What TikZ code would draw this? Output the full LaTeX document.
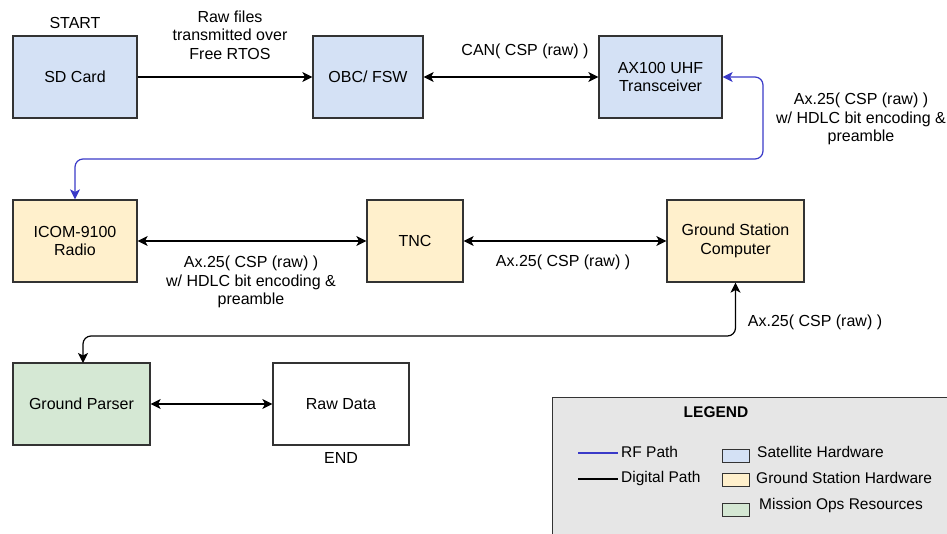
\documentclass[tikz,border=0pt]{standalone}
\usepackage{fontspec}
\setmainfont{Liberation Sans}
\usetikzlibrary{arrows.meta}
\definecolor{satfill}{HTML}{D4E1F5}
\definecolor{gsfill}{HTML}{FFF0CC}
\definecolor{opsfill}{HTML}{D5E8D4}
\definecolor{boxline}{HTML}{333333}
\definecolor{rfblue}{HTML}{3A3AC8}
\definecolor{legfill}{HTML}{E6E6E6}
\tikzset{
  box/.style={draw=boxline, line width=1.2pt, align=center, inner sep=0pt},
  lbl/.style={align=center, inner sep=0pt},
  conn/.style={draw=black, line width=1.2pt, {Stealth[length=10pt,width=10pt,inset=2.5pt]}-{Stealth[length=10pt,width=10pt,inset=2.5pt]}},
  oneway/.style={draw=black, line width=1.2pt, -{Stealth[length=10pt,width=10pt,inset=2.5pt]}},
  rf/.style={conn, draw=rfblue, rounded corners=8pt},
  swatch/.style={draw=boxline, line width=1pt, minimum width=27pt, minimum height=13pt, inner sep=0pt},
  legline/.style={line width=1.4pt}
}
\begin{document}
\begin{tikzpicture}[x=1pt,y=-1pt,font=\fontsize{16}{18.5}\selectfont]
\useasboundingbox (0,0) rectangle (947,534);
\begin{scope}
\clip (0,0) rectangle (947,534);
% legend background
\node[draw=boxline, fill=legfill, line width=1.2pt, minimum width=420pt, minimum height=160pt, anchor=north west, inner sep=0pt] (legend) at (552,397) {};
\end{scope}
% row 1
\node[box, fill=satfill, minimum width=124pt, minimum height=82pt] (sd) at (75,77) {SD Card};
\node[box, fill=satfill, minimum width=110pt, minimum height=82pt] (obc) at (368,77) {OBC/ FSW};
\node[box, fill=satfill, minimum width=123pt, minimum height=82pt] (ax) at (660.5,77) {AX100 UHF\\Transceiver};
\node[lbl] (start) at (75,23) {START};
\node[lbl] (rawlbl) at (230,35) {Raw files\\transmitted over\\Free RTOS};
\node[lbl] (canlbl) at (525,51) {CAN( CSP (raw) )};
\node[lbl] (rflbl) at (861,119) {Ax.25( CSP (raw) )\\w/ HDLC bit encoding \&\\preamble};
% row 2
\node[box, fill=gsfill, minimum width=124pt, minimum height=82pt] (icom) at (75,241) {ICOM-9100\\Radio};
\node[box, fill=gsfill, minimum width=96pt, minimum height=82pt] (tnc) at (415,241) {TNC};
\node[box, fill=gsfill, minimum width=137pt, minimum height=82pt] (gsc) at (735.5,241) {Ground Station\\Computer};
\node[lbl] (itlbl) at (251,282) {Ax.25( CSP (raw) )\\w/ HDLC bit encoding \&\\preamble};
\node[lbl] (tglbl) at (563,262) {Ax.25( CSP (raw) )};
\node[lbl] (gplbl) at (815,322) {Ax.25( CSP (raw) )};
% row 3
\node[box, fill=opsfill, minimum width=137pt, minimum height=82pt] (gp) at (81.5,404) {Ground Parser};
\node[box, fill=white, minimum width=136pt, minimum height=82pt] (raw) at (341,404) {Raw Data};
\node[lbl] (endlbl) at (341,458) {END};
% connectors
\draw[oneway] (sd) -- (obc);
\draw[conn] (obc) -- (ax);
\coordinate (rfc) at (763,159);
\draw[rf] (ax.east) -| (rfc) -| (icom.north);
\draw[conn] (icom) -- (tnc);
\draw[conn] (tnc) -- (gsc);
\coordinate (dc) at (735.5,336);
\coordinate (gptop) at (83,363);
\draw[conn, rounded corners=8pt] (gsc.south) -- (dc) -| (gptop);
\draw[conn] (gp) -- (raw);
% legend contents
\begin{scope}[font=\fontsize{15.5}{18}\selectfont]
\node[lbl, font=\fontsize{15.5}{18}\selectfont\bfseries] (legt) at (716,412) {LEGEND};
\coordinate (rfa) at (578,453);
\coordinate (rfb) at (618,453);
\draw[legline, draw=rfblue] (rfa) -- (rfb);
\node[lbl, anchor=west] (rftxt) at (621,452) {RF Path};
\coordinate (dga) at (578,479);
\coordinate (dgb) at (618,479);
\draw[legline, draw=black] (dga) -- (dgb);
\node[lbl, anchor=west] (dgtxt) at (621,478) {Digital Path};
\node[swatch, fill=satfill] (sw1) at (735.5,455.5) {};
\node[swatch, fill=gsfill] (sw2) at (735.5,480) {};
\node[swatch, fill=opsfill] (sw3) at (735.5,509.5) {};
\node[lbl, anchor=west] (t1) at (757,452) {Satellite Hardware};
\node[lbl, anchor=west] (t2) at (756,478) {Ground Station Hardware};
\node[lbl, anchor=west] (t3) at (759,505) {Mission Ops Resources};
\end{scope}
\end{tikzpicture}
\end{document}
